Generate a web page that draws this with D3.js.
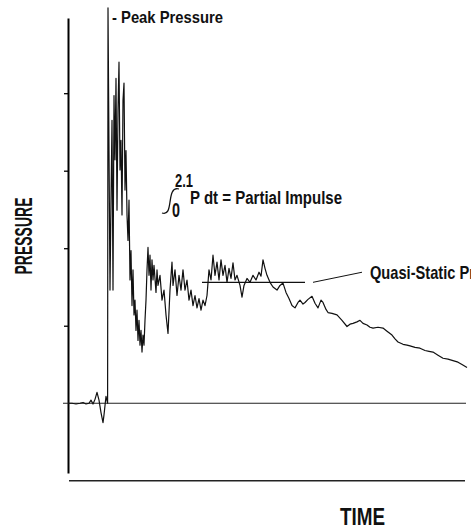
<!DOCTYPE html>
<html>
<head>
<meta charset="utf-8">
<script src="https://cdn.jsdelivr.net/npm/d3@7"></script>
<style>
  body { margin: 0; background: #fff; }
  svg text { font-family: "Liberation Sans Narrow", "Liberation Sans", Arial, sans-serif; fill: #111; }
</style>
</head>
<body>
<div id="chart"></div>
<script>
// time in ms, pressure in arbitrary units (1 per tick)
var traceTime = [0, 1, 2, 3, 3.75, 4.5, 5.25, 5.75, 6.25, 6.75, 7.25, 7.75, 8.25, 8.75, 9, 9.5, 9.9,
  10, 10.25, 10.5, 10.75, 11, 11.25, 11.5, 11.75, 12, 12.25, 12.5, 12.75, 13, 13.25, 13.5, 13.75, 14,
  14.25, 14.5, 14.75, 15, 15.25, 15.5, 15.75, 16, 16.25, 16.5, 16.75, 17, 17.25, 17.5, 17.75, 18,
  18.25, 18.5, 18.75, 19, 19.25, 19.5, 19.75, 20, 20.25, 20.5, 20.75, 21, 21.25, 21.5, 22, 22.25,
  22.5, 23, 23.5, 24, 24.5, 25, 25.5, 26, 26.25, 26.75, 27.25, 27.75, 28.25, 28.75, 29.25, 29.75,
  30.25, 30.75, 31.25, 31.75, 32.25, 32.75, 33.25, 33.75, 34.25, 34.75, 35.25, 35.75, 36.25, 36.75,
  37.25, 37.75, 38.25, 38.75, 39.25, 39.75, 40.25, 40.75, 41.25, 41.75, 42.25, 43, 43.5, 44, 44.75,
  45.5, 46.25, 47, 47.75, 48.25, 48.75, 49.25, 49.75, 50.5, 51.25, 52.25, 53, 53.75, 54.5, 55.25,
  56, 56.75, 57.5, 58, 58.75, 59.25, 60, 61, 61.75, 62.5, 63.25, 63.75, 64.5, 65, 66, 67.25, 68.5,
  69.75, 70.5, 71.25, 72.25, 73, 73.75, 74.75, 75.5, 76.25, 77.5, 78.75, 79.75, 81, 81.75, 82.5,
  83.75, 84.75, 85.5, 86.75, 88, 89.25, 90.25, 91.25, 92.5, 93.75, 95, 96.25, 97.5, 98.5, 99.75];
var tracePressure = [0, 0, -0.01, 0, 0.01, -0.01, 0, 0.04, -0.01, 0.05, 0.14, 0.04, -0.12, -0.25, -0.15, 0.09, 0,
  5.10, 3.26, 1.46, 2.62, 3.65, 1.46, 3.97, 3.14, 4.19, 2.49, 3.78, 4.40, 3.01, 3.39, 2.43, 3.91, 4.13,
  2.75, 3.26, 2.43, 2.10, 2.62, 1.59, 1.97, 1.26, 1.72, 1.14, 1.33, 0.94, 1.20, 0.81, 1.07, 0.75,
  0.94, 0.66, 0.88, 0.75, 1.07, 1.33, 1.72, 2.01, 1.65, 1.91, 1.46, 1.85, 1.59, 1.78, 1.43, 1.72,
  1.52, 1.65, 1.33, 1.46, 1.14, 0.90, 1.46, 1.82, 1.52, 1.72, 1.39, 1.65, 1.46, 1.72, 1.46, 1.59,
  1.33, 1.46, 1.26, 1.39, 1.23, 1.35, 1.20, 1.33, 1.26, 1.39, 1.72, 1.59, 1.91, 1.65,
  1.82, 1.59, 1.85, 1.65, 1.78, 1.56, 1.74, 1.61, 1.81, 1.59, 1.65, 1.52, 1.37, 1.52, 1.61,
  1.56, 1.65, 1.59, 1.69, 1.64, 1.85, 1.74, 1.65, 1.56, 1.50, 1.46, 1.52, 1.55, 1.43, 1.35,
  1.26, 1.23, 1.30, 1.33, 1.28, 1.30, 1.34, 1.38, 1.29, 1.23, 1.33, 1.30, 1.21, 1.17, 1.16, 1.14, 1.07,
  0.99, 1.02, 1.03, 1.05, 1.07, 1.03, 1.01, 0.98, 0.97, 0.98, 0.97, 0.93, 0.88, 0.83, 0.79,
  0.76, 0.75, 0.74, 0.72, 0.71, 0.68, 0.67, 0.66, 0.62, 0.58, 0.57, 0.55, 0.53, 0.50, 0.46];

var yTicks = [1, 2, 3, 4];
var quasiStatic = { from: 33.5, to: 59.25, level: 1.56 };
var impulseLimits = ["0", "2.1"];

var width = 471, height = 530;

var x = d3.scaleLinear().domain([0, 100]).range([68, 468]);
var y = d3.scaleLinear().domain([-0.9, 4.97]).range([473, 18]);

var svg = d3.select("#chart").append("svg")
    .attr("width", width)
    .attr("height", height);

// pressure axis, ticks without labels
svg.append("g")
    .attr("transform", "translate(" + x(0) + ",0)")
    .call(d3.axisLeft(y).tickValues(yTicks).tickFormat("").tickSize(4).tickSizeOuter(0))
    .call(g => g.select(".domain").attr("stroke-width", 2))
    .call(g => g.selectAll(".tick line").attr("stroke-width", 1.3));

// zero line
svg.append("line")
    .attr("x1", x(-1.25)).attr("x2", x(99.5))
    .attr("y1", y(0)).attr("y2", y(0))
    .attr("stroke", "#222").attr("stroke-width", 1.2);

// time axis line below
svg.append("line")
    .attr("x1", x(0.25)).attr("x2", x(99.25))
    .attr("y1", y(-1)).attr("y2", y(-1))
    .attr("stroke", "#222").attr("stroke-width", 1.6);

var points = traceTime.map((t, i) => [t, tracePressure[i]]);

var line = d3.line()
    .x(d => x(d[0]))
    .y(d => y(d[1]));

svg.append("path")
    .datum(points)
    .attr("d", line)
    .attr("fill", "none")
    .attr("stroke", "#111")
    .attr("stroke-width", 1.2)
    .attr("stroke-linejoin", "round");

// quasi-static level and its leader
svg.append("line")
    .attr("x1", x(quasiStatic.from)).attr("x2", x(quasiStatic.to))
    .attr("y1", y(quasiStatic.level)).attr("y2", y(quasiStatic.level))
    .attr("stroke", "#111").attr("stroke-width", 1.3);

svg.append("line")
    .attr("x1", x(61.25)).attr("x2", x(73.5))
    .attr("y1", y(1.56)).attr("y2", y(1.69))
    .attr("stroke", "#111").attr("stroke-width", 1);

// runs off the right edge, as in the original figure
svg.append("text")
    .attr("x", 370).attr("y", 279)
    .attr("font-size", 19).attr("font-weight", "bold")
    .attr("textLength", 152).attr("lengthAdjust", "spacingAndGlyphs")
    .text("Quasi-Static Pressure");

// peak label
svg.append("text")
    .attr("x", 112).attr("y", 23)
    .attr("font-size", 17).attr("font-weight", "bold")
    .attr("textLength", 111).attr("lengthAdjust", "spacingAndGlyphs")
    .text("- Peak Pressure");

// partial impulse label
svg.append("path")
    .attr("d", "M179,189 C172,187 171,195 170,202 C169,209 168,215 162,213")
    .attr("fill", "none").attr("stroke", "#111").attr("stroke-width", 1.3);

svg.append("text")
    .attr("x", 175).attr("y", 187)
    .attr("font-size", 19).attr("font-weight", "bold")
    .attr("textLength", 18).attr("lengthAdjust", "spacingAndGlyphs")
    .text(impulseLimits[1]);

svg.append("text")
    .attr("x", 172).attr("y", 217)
    .attr("font-size", 21).attr("font-weight", "bold")
    .attr("textLength", 8).attr("lengthAdjust", "spacingAndGlyphs")
    .text(impulseLimits[0]);

svg.append("text")
    .attr("x", 190).attr("y", 204)
    .attr("font-size", 18).attr("font-weight", "bold")
    .attr("textLength", 152).attr("lengthAdjust", "spacingAndGlyphs")
    .text("P dt = Partial Impulse");

// axis titles
svg.append("text")
    .attr("transform", "translate(32,236) rotate(-90)")
    .attr("text-anchor", "middle")
    .attr("font-size", 24).attr("font-weight", "bold")
    .attr("textLength", 77).attr("lengthAdjust", "spacingAndGlyphs")
    .text("PRESSURE");

svg.append("text")
    .attr("x", 340).attr("y", 525)
    .attr("font-size", 24).attr("font-weight", "bold")
    .attr("textLength", 45).attr("lengthAdjust", "spacingAndGlyphs")
    .text("TIME");
</script>
</body>
</html>
